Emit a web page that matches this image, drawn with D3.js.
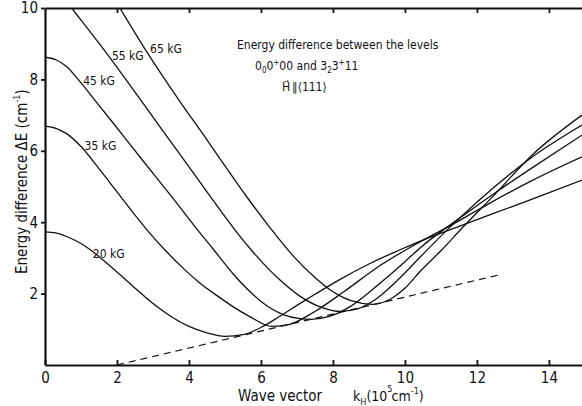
<!DOCTYPE html>
<html>
<head>
<meta charset="utf-8">
<script src="https://cdn.jsdelivr.net/npm/d3@7"></script>
<style>
  body { margin: 0; background: #fff; }
  text { font-family: "DejaVu Sans Condensed", "DejaVu Sans", sans-serif; font-stretch: condensed; fill: #111; }
</style>
</head>
<body>
<div id="chart"></div>
<script>
// field labels
var fields = ["20 kG", "35 kG", "45 kG", "55 kG", "65 kG"];

// energy difference curves, [k_H, dE]
var curve20 = [[0,3.73],[0.3,3.7],[0.6,3.6],[0.9,3.46],[1.16,3.3],[1.8,2.78],[2.45,2.2],[3.0,1.72],[3.5,1.36],
               [4.0,1.08],[4.5,0.9],[5.0,0.8],[5.5,0.85],[6.0,1.05],[6.5,1.35],[7.0,1.67],[7.5,1.98],[8.2,2.4],
               [9.0,2.83],[9.8,3.2],[10.5,3.5],[11.6,3.92],[12.5,4.26],[13.5,4.63],[14.92,5.18]];
var curve35 = [[0,6.69],[0.3,6.63],[0.6,6.48],[1.0,6.12],[1.5,5.5],[2.0,4.85],[2.5,4.2],[2.92,3.68],[3.4,3.15],
               [3.85,2.7],[4.3,2.3],[4.77,1.95],[5.2,1.65],[5.7,1.35],[6.3,1.08],[6.8,1.14],[7.5,1.5],[8.3,2.05],
               [9.3,2.78],[10.42,3.45],[11.4,3.98],[12.3,4.5],[13.5,5.15],[14.92,5.83]];
var curve45 = [[0,8.62],[0.3,8.55],[0.6,8.36],[0.92,8.0],[1.4,7.4],[1.86,6.82],[2.7,5.75],[3.53,4.7],[4.21,3.82],
               [4.67,3.25],[5.23,2.55],[5.7,2.05],[6.16,1.66],[6.6,1.42],[7.08,1.3],[7.4,1.28],[7.9,1.36],
               [8.5,1.65],[9.2,2.2],[9.9,2.8],[10.42,3.28],[11.5,4.1],[12.5,4.82],[13.5,5.5],[14.92,6.44]];
var curve55 = [[0.2,10.7],[0.74,10],[1.75,8.68],[3.06,6.86],[3.75,5.9],[4.5,4.85],[5.28,3.78],[5.75,3.2],[6.2,2.7],
               [6.53,2.38],[7.08,1.93],[7.72,1.6],[8.2,1.5],[8.7,1.58],[9.2,1.85],[9.8,2.38],[10.42,3.02],
               [11.5,4.1],[12.5,5.0],[13.5,5.8],[14.92,6.72]];
var curve65 = [[1.6,10.8],[2.08,10],[2.78,8.85],[3.75,7.38],[4.4,6.45],[5.0,5.58],[5.6,4.72],[6.25,3.85],[6.9,3.05],
               [7.5,2.45],[8.0,2.05],[8.5,1.8],[9.1,1.7],[9.6,1.85],[10.0,2.15],[10.42,2.62],[11.0,3.2],
               [11.6,3.85],[12.5,4.78],[13.5,5.85],[14.92,7.0]];
var curves = [curve20, curve35, curve45, curve55, curve65];

// dashed envelope
var envelope = [[2,0],[12.6,2.52]];

var xTicks = [0, 2, 4, 6, 8, 10, 12, 14];
var yTicks = [2, 4, 6, 8, 10];

// set up chart
var svgWidth = 582;
var svgHeight = 406;
var margin = { top: 8, right: 0, bottom: 41, left: 45 };
var width = svgWidth - margin.left - margin.right;
var height = svgHeight - margin.top - margin.bottom;

var svg = d3.select("#chart").append("svg")
    .attr("width", svgWidth)
    .attr("height", svgHeight);

var chartGroup = svg.append("g")
    .attr("transform", `translate(${margin.left}, ${margin.top})`);

var xScale = d3.scaleLinear().domain([0, 14.92]).range([0, width]);
var yScale = d3.scaleLinear().domain([0, 10]).range([height, 0]);

svg.append("defs").append("clipPath").attr("id", "plotClip")
  .append("rect").attr("x", 0).attr("y", 0).attr("width", width).attr("height", height);

// curves
var line = d3.line()
    .x(d => xScale(d[0]))
    .y(d => yScale(d[1]))
    .curve(d3.curveMonotoneX);

var plot = chartGroup.append("g").attr("clip-path", "url(#plotClip)");

plot.selectAll("path.curve")
    .data(curves)
    .enter()
    .append("path")
    .attr("class", "curve")
    .attr("d", line)
    .attr("fill", "none")
    .attr("stroke", "#111")
    .attr("stroke-width", 1.3);

plot.append("path")
    .attr("d", d3.line().x(d => xScale(d[0])).y(d => yScale(d[1]))(envelope))
    .attr("fill", "none")
    .attr("stroke", "#111")
    .attr("stroke-width", 1.2)
    .attr("stroke-dasharray", "7,5");

// axes
var xAxis = d3.axisBottom(xScale).tickValues(xTicks).tickSizeInner(-5).tickSizeOuter(0).tickPadding(7);
var yAxis = d3.axisLeft(yScale).tickValues(yTicks).tickSizeInner(4).tickSizeOuter(0).tickPadding(3);
var topAxis = d3.axisTop(xScale).tickValues(xTicks.slice(1)).tickSizeInner(-5).tickSizeOuter(0).tickFormat("");

var gx = chartGroup.append("g")
    .attr("transform", `translate(0, ${height})`)
    .call(xAxis);
var gy = chartGroup.append("g").call(yAxis);
var gt = chartGroup.append("g").call(topAxis);

[gx, gy, gt].forEach(function(g) {
    g.select(".domain").attr("stroke", "#111").attr("stroke-width", 2.2);
    g.selectAll(".tick line").attr("stroke", "#111").attr("stroke-width", 1.8);
    g.selectAll(".tick text").attr("font-size", 15).attr("fill", "#111")
        .attr("font-family", "'DejaVu Sans Condensed','DejaVu Sans',sans-serif");
});

// field labels
var labelSpots = [[1.33, 3.0], [1.1, 6.02], [1.06, 7.84], [1.86, 8.54], [2.92, 8.74]];
chartGroup.selectAll("text.field")
    .data(fields)
    .enter()
    .append("text")
    .attr("class", "field")
    .attr("x", (d, i) => xScale(labelSpots[i][0]))
    .attr("y", (d, i) => yScale(labelSpots[i][1]))
    .attr("font-size", 12)
    .text(d => d);

// annotation
svg.append("text").attr("x", 237).attr("y", 49).attr("font-size", 12)
    .text("Energy difference between the levels");

var ann2 = svg.append("text").attr("x", 255).attr("y", 70).attr("font-size", 12);
ann2.append("tspan").text("0");
ann2.append("tspan").attr("font-size", 8).attr("dy", 3).text("0");
ann2.append("tspan").attr("dy", -3).text("0");
ann2.append("tspan").attr("font-size", 8).attr("dy", -5).text("+");
ann2.append("tspan").attr("dy", 5).text("00 and  3");
ann2.append("tspan").attr("font-size", 8).attr("dy", 3).text("2");
ann2.append("tspan").attr("dy", -3).text("3");
ann2.append("tspan").attr("font-size", 8).attr("dy", -5).text("+");
ann2.append("tspan").attr("dy", 5).text("11");

svg.append("text").attr("x", 282).attr("y", 91).attr("font-size", 12)
    .text("H\u20D7\u2009\u2225\u27E8111\u27E9");

// axis labels
var yLabel = svg.append("text")
    .attr("transform", "translate(27, 274) rotate(-90)")
    .attr("font-size", 15);
yLabel.append("tspan").text("Energy difference   \u0394E (cm");
yLabel.append("tspan").attr("font-size", 9).attr("dy", -7).text("-1");
yLabel.append("tspan").attr("dy", 7).text(")");

svg.append("text").attr("x", 238).attr("y", 401).attr("font-size", 15).text("Wave vector");
var xLabel = svg.append("text").attr("x", 353).attr("y", 401).attr("font-size", 14);
xLabel.append("tspan").text("k");
xLabel.append("tspan").attr("font-size", 9).attr("dy", 4).text("H");
xLabel.append("tspan").attr("dy", -4).text("(10");
xLabel.append("tspan").attr("font-size", 9).attr("dy", -9).text("5");
xLabel.append("tspan").attr("dy", 9).attr("dx", -1).text("cm");
xLabel.append("tspan").attr("font-size", 9).attr("dy", -7).text("-1");
xLabel.append("tspan").attr("dy", 7).text(")");
</script>
</body>
</html>
